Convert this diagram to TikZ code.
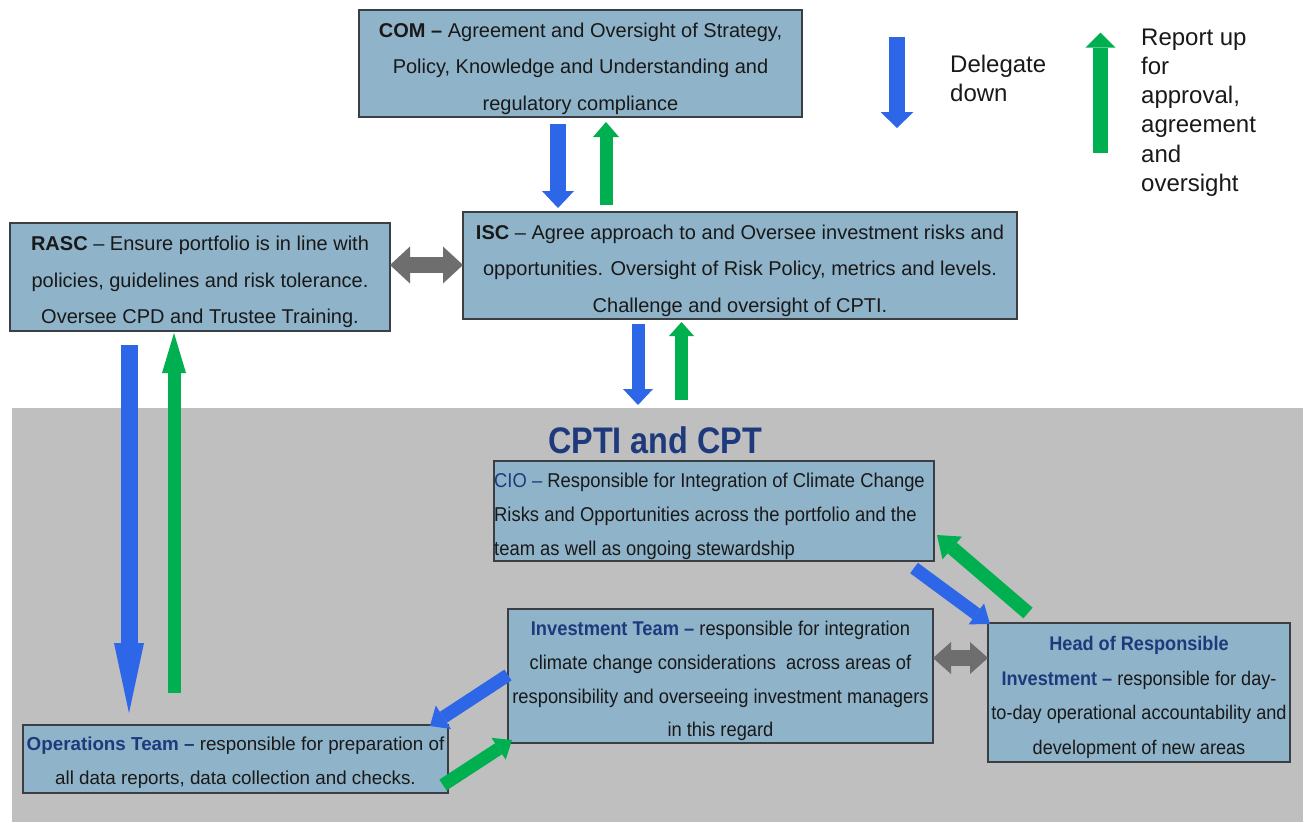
\documentclass[tikz,border=0pt]{standalone}
\usepackage{fontspec}
\setmainfont{Liberation Sans}
\newfontfamily\titlefont{Liberation Sans}[FakeStretch=0.875]
\newfontfamily\narrowfont{Liberation Sans}[FakeStretch=0.92]
\usetikzlibrary{arrows.meta}
\definecolor{boxfill}{HTML}{8FB3C9}
\definecolor{boxline}{HTML}{3A3F44}
\definecolor{bggray}{HTML}{BFBFBF}
\definecolor{navy}{HTML}{1F3A7C}
\definecolor{arrblue}{HTML}{2E66E8}
\definecolor{arrgreen}{HTML}{00B050}
\definecolor{arrgray}{HTML}{6E6E6E}
\tikzset{
  box/.style={draw=boxline, fill=boxfill, line width=1.2pt, inner sep=0pt, outer sep=0pt},
  boxtext/.style={inner sep=0pt, align=center, text=black!90},
  toptext/.style={boxtext, font=\fontsize{20}{36.5}\selectfont},
  bluearr/.style={draw=arrblue, line width=#1},
  greenarr/.style={draw=arrgreen, line width=#1},
  grayarr/.style={draw=arrgray, line width=#1},
  legendtext/.style={anchor=north west, inner sep=0pt, align=left, font=\fontsize{24}{29.2}\selectfont, text=black!90},
}
\begin{document}
\begin{tikzpicture}[x=1pt,y=-1pt]
\useasboundingbox (0,0) rectangle (1309,822);
\fill[white] (0,0) rectangle (1309,822);
% grey CPTI area
\node[fill=bggray, inner sep=0pt, outer sep=0pt, minimum width=1291pt, minimum height=414pt] (cpti) at (657.5,615) {};
\node[anchor=base west, inner sep=0pt, text=navy, font=\titlefont\bfseries\fontsize{37}{40}\selectfont] (title) at (548,453) {CPTI and CPT};

% boxes
\node[box, minimum width=443pt, minimum height=107pt] (com) at (580.5,63.5) {};
\node[toptext] (comtext) at ([yshift=-5pt]com.center)
  {\textbf{COM –} Agreement and Oversight of Strategy,\\Policy, Knowledge and Understanding and\\regulatory compliance};
\node[box, minimum width=380pt, minimum height=108pt] (rasc) at (200,277) {};
\node[toptext] (rasctext) at ([yshift=-5pt]rasc.center)
  {\textbf{RASC} – Ensure portfolio is in line with\\policies, guidelines and risk tolerance.\\Oversee CPD and Trustee Training.};
\node[box, minimum width=554pt, minimum height=107pt] (isc) at (740,265.5) {};
\node[toptext] (isctext) at ([yshift=-5pt]isc.center)
  {\textbf{ISC} – Agree approach to and Oversee investment risks and\\opportunities. Oversight of Risk Policy, metrics and levels.\\Challenge and oversight of CPTI.};
\node[box, minimum width=440pt, minimum height=100pt] (cio) at (714,511) {};
\node[boxtext, anchor=west, align=left, font=\narrowfont\fontsize{20}{34}\selectfont] (ciotext) at ([yshift=-5pt]cio.west)
  {{\color{navy}CIO –} Responsible for Integration of Climate Change\\Risks and Opportunities across the portfolio and the\\team as well as ongoing stewardship};
\node[box, minimum width=425pt, minimum height=134pt] (inv) at (720.5,676) {};
\node[boxtext, font=\narrowfont\fontsize{19.9}{33.7}\selectfont] (invtext) at ([yshift=-5pt]inv.center)
  {{\color{navy}\textbf{Investment Team –}} responsible for integration\\climate change considerations\ \ across areas of\\responsibility and overseeing investment managers\\in this regard};
\node[box, minimum width=302pt, minimum height=139pt] (head) at (1139,692.5) {};
\node[boxtext, font=\narrowfont\fontsize{19.7}{34.7}\selectfont] (headtext) at ([yshift=-5pt]head.center)
  {{\color{navy}\textbf{Head of Responsible}}\\{\color{navy}\textbf{Investment –}} responsible for day-\\to-day operational accountability and\\development of new areas};
\node[box, minimum width=425pt, minimum height=68pt] (ops) at (235.5,759) {};
\node[boxtext, font=\fontsize{18.8}{34}\selectfont] (opstext) at ([yshift=-4pt]ops.center)
  {{\color{navy}\textbf{Operations Team –}} responsible for preparation of\\all data reports, data collection and checks.};

% legend
\node[legendtext] (deleg) at (950,55) {Delegate\\down};
\node[legendtext] (report) at (1141,28.5) {Report up\\for\\approval,\\agreement\\and\\oversight};
\coordinate (lb1) at (897,37);
\coordinate (lb2) at (897,128);
\coordinate (lg1) at (1100.5,152.7);
\coordinate (lg2) at (1100.5,32.7);
\draw[bluearr=16pt, -{Triangle[width=33pt,length=16pt,line width=0pt]}] (lb1) -- (lb2);
\draw[greenarr=15pt, -{Triangle[width=30pt,length=15pt,line width=0pt]}] (lg1) -- (lg2);

% COM <-> ISC
\draw[bluearr=16pt, -{Triangle[width=32pt,length=17pt,line width=0pt]}]
  ([xshift=-22.5pt,yshift=-7pt]com.south) -- ([xshift=-182pt,yshift=4pt]isc.north);
\draw[greenarr=13pt, -{Triangle[width=26pt,length=15pt,line width=0pt]}]
  ([xshift=-134pt,yshift=7pt]isc.north) -- ([xshift=25.5pt,yshift=-5pt]com.south);

% RASC <-> ISC
\draw[grayarr=16pt, {Triangle[width=37pt,length=20pt,line width=0pt]}-{Triangle[width=37pt,length=20pt,line width=0pt]}]
  ([yshift=12pt]rasc.east) -- ([yshift=0.5pt]isc.west);

% ISC <-> CPTI
\draw[bluearr=13pt, -{Triangle[width=30pt,length=16pt,line width=0pt]}]
  ([xshift=-102pt,yshift=-5pt]isc.south) -- ([xshift=-19.5pt,yshift=3pt]cpti.north);
\draw[greenarr=13pt, -{Triangle[width=25pt,length=14pt,line width=0pt]}]
  ([xshift=24pt,yshift=8pt]cpti.north) -- ([xshift=-58.5pt,yshift=-3pt]isc.south);

% RASC <-> Operations
\draw[bluearr=17pt, -{Triangle[width=30pt,length=70pt,line width=0pt]}]
  ([xshift=-71pt,yshift=-14pt]rasc.south) -- ([xshift=-106.5pt,yshift=12pt]ops.north);
\draw[greenarr=13pt, -{Triangle[width=24pt,length=40pt,line width=0pt]}]
  ([xshift=-61.5pt,yshift=32pt]ops.north) -- ([xshift=-26pt,yshift=-2pt]rasc.south);

% CIO <-> Head
\draw[bluearr=13pt, -{Triangle[width=26pt,length=17pt,line width=0pt]}]
  ([xshift=-20pt,yshift=-7pt]cio.south east) -- ([xshift=2pt,yshift=-1pt]head.north west);
\draw[greenarr=14pt, -{Triangle[width=30pt,length=20pt,line width=0pt]}]
  ([xshift=40pt,yshift=10pt]head.north west) -- ([xshift=3pt,yshift=-24pt]cio.east);

% Investment <-> Head
\draw[grayarr=16pt, {Triangle[width=32pt,length=18pt,line width=0pt]}-{Triangle[width=32pt,length=18pt,line width=0pt]}]
  ([yshift=18pt]inv.east) -- ([yshift=34.5pt]head.west);

% Investment <-> Operations
\draw[bluearr=13pt, -{Triangle[width=28pt,length=16pt,line width=0pt]}]
  ([yshift=1pt]inv.west) -- ([xshift=-18pt,yshift=-1pt]ops.north east);
\draw[greenarr=13pt, -{Triangle[width=26pt,length=16pt,line width=0pt]}]
  ([xshift=-5pt,yshift=-26pt]ops.east) -- ([xshift=4pt,yshift=3pt]inv.south west);
\end{tikzpicture}
\end{document}
